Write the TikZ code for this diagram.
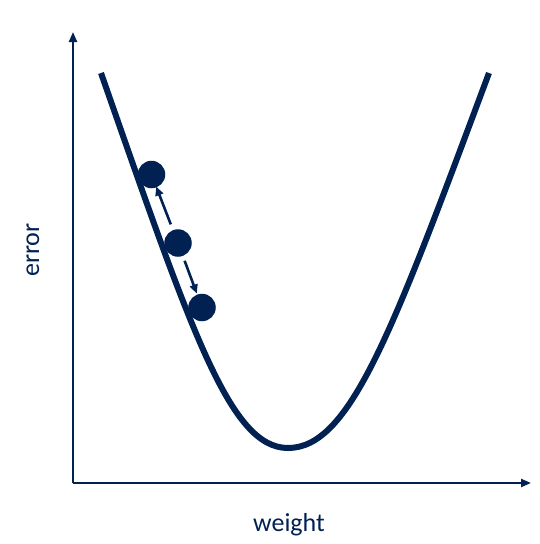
\documentclass[tikz,border=0pt]{standalone}
\usepackage{fontspec}
\setmainfont{Carlito}
\usetikzlibrary{arrows.meta}
\definecolor{navy}{RGB}{0,33,82}
\begin{document}
\begin{tikzpicture}[x=1pt,y=-1pt,
  axis/.style={draw=navy,line width=2.2pt,-{Triangle[length=10pt,width=8pt]}},
  curve/.style={draw=navy,line width=6pt},
  ball/.style={circle,fill=navy,minimum size=27.5pt,inner sep=0pt},
  move/.style={draw=navy,line width=2.6pt,-{Triangle[length=9pt,width=8pt]}},
  lbl/.style={text=navy,font=\fontsize{26}{30}\selectfont}]
\useasboundingbox (0,0) rectangle (539,544);
\coordinate (o) at (73,483);
\coordinate (ytip) at (73,32);
\coordinate (xtip) at (531,483);
\draw[axis] (o) -- (ytip);
\draw[axis] (o) -- (xtip);
\coordinate (cl) at (101,73);
\coordinate (cm) at (288,448);
\coordinate (cr) at (489,73);
\draw[curve] (cl) .. controls (192,333) and (230,448) .. (cm)
  .. controls (350,448) and (392,333) .. (cr);
\node[ball] (b1) at (151.5,174.5) {};
\node[ball] (b2) at (178,243) {};
\node[ball] (b3) at (202,307.5) {};
\draw[move,shorten <=6pt,shorten >=-1pt] (b2) -- (b1);
\draw[move,shorten <=5pt,shorten >=1pt] (b2) -- (b3);
\node[lbl,rotate=90] (ey) at (33,250) {error};
\node[lbl,anchor=base] (wx) at (289,531) {weight};
\end{tikzpicture}
\end{document}
